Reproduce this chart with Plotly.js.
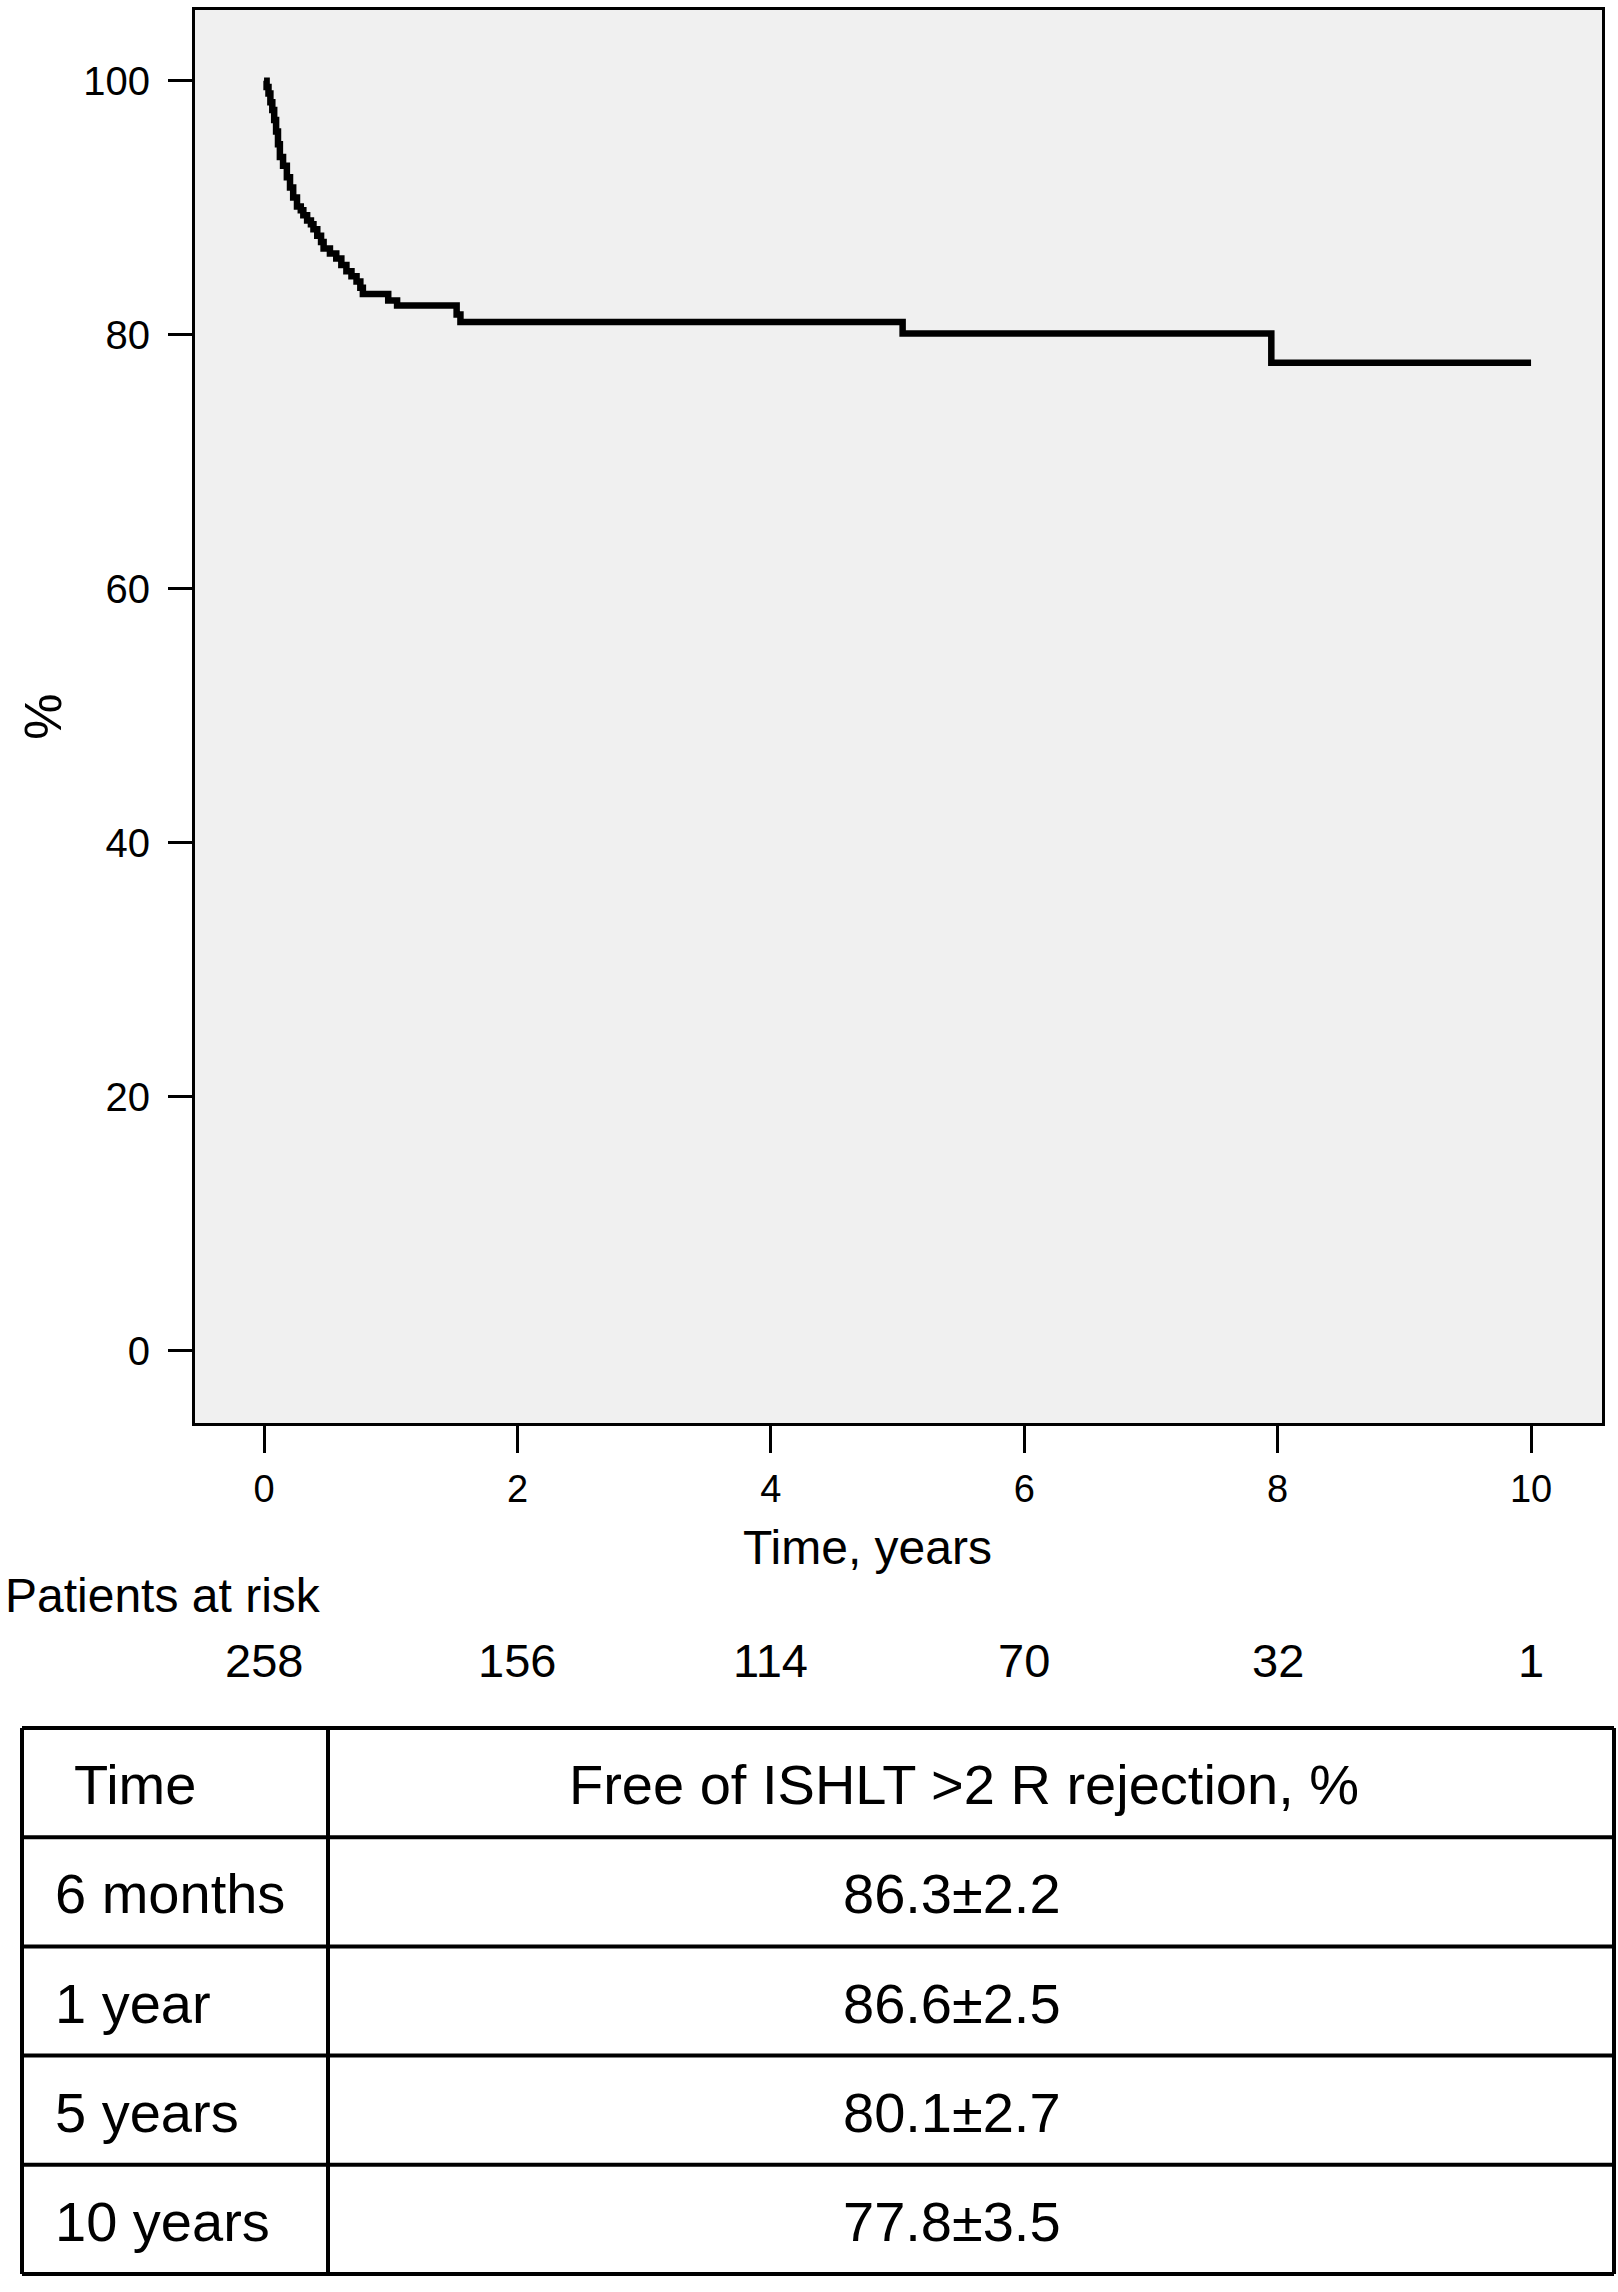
<!DOCTYPE html>
<html>
<head>
<meta charset="utf-8">
<script src="https://cdn.plot.ly/plotly-3.0.1.min.js"></script>
<style>html,body{margin:0;padding:0;background:#fff;}</style>
</head>
<body>
<div id="chart" style="width:1618px;height:2292px;"></div>
<script>
// Kaplan-Meier curve: freedom from ISHLT >2R rejection (%)
const timeYears = [0, 0.02, 0.035, 0.05, 0.065, 0.08, 0.095, 0.11, 0.125, 0.15, 0.18, 0.205, 0.23,
  0.26, 0.29, 0.31, 0.34, 0.37, 0.39, 0.42, 0.45, 0.47, 0.52, 0.57, 0.61, 0.65, 0.69, 0.73, 0.76,
  0.78, 0.98, 1.05, 1.52, 1.55, 5.04, 7.95, 10.0];
const freedomPct = [100, 99.5, 99.0, 98.3, 97.7, 96.9, 96.0, 95.0, 94.0, 93.3, 92.4, 91.6, 90.8,
  90.1, 89.8, 89.4, 89.0, 88.7, 88.3, 87.8, 87.3, 86.8, 86.4, 86.0, 85.5, 85.0, 84.6, 84.2, 83.7,
  83.2, 82.7, 82.3, 81.6, 81.0, 80.1, 77.8, 77.8];

const xTicks = [0, 2, 4, 6, 8, 10];
const yTicks = [0, 20, 40, 60, 80, 100];

const riskTimes = [0, 2, 4, 6, 8, 10];
const riskCounts = [258, 156, 114, 70, 32, 1];

const tableHeader = ['Time', 'Free of ISHLT >2 R rejection, %'];
const tableTimes = ['6 months', '1 year', '5 years', '10 years'];
const tableValues = ['86.3±2.2', '86.6±2.5', '80.1±2.7', '77.8±3.5'];

const FONT = 'Liberation Sans, Arial, Helvetica, sans-serif';
const W = 1618, H = 2292;
const M = {l: 20, r: 2, t: 10, b: 18};
// pixel -> paper helpers
const px = v => (v - M.l) / (W - M.l - M.r);
const py = v => (H - M.b - v) / (H - M.t - M.b);

const curve = {
  type: 'scatter', mode: 'lines', x: timeYears, y: freedomPct,
  line: {shape: 'hv', color: '#000', width: 6.5},
  xaxis: 'x', yaxis: 'y', hoverinfo: 'skip'
};

// table geometry (pixels)
const T = {left: 22, right: 1614, top: 1728, rowH: 109.2, colDiv: 328,
           col1TextHeader: 72, col1Text: 53, col2HeaderCenter: 964, col2Center: 952};
const nRows = 1 + tableTimes.length;
const shapes = [];
const lineStyle = {color: '#000', width: 4};
for (let i = 0; i <= nRows; i++) {
  const yy = py(T.top + i * T.rowH);
  shapes.push({type: 'line', xref: 'paper', yref: 'paper', x0: px(T.left), x1: px(T.right), y0: yy, y1: yy, line: lineStyle});
}
[T.left, T.colDiv, T.right].forEach(xv => {
  shapes.push({type: 'line', xref: 'paper', yref: 'paper', x0: px(xv), x1: px(xv),
    y0: py(T.top), y1: py(T.top + nRows * T.rowH), line: lineStyle});
});

const annotations = [
  {text: 'Time, years', xref: 'paper', yref: 'paper', x: 0.531, y: 0.3207,
   xanchor: 'center', yanchor: 'middle', showarrow: false, font: {family: FONT, size: 48, color: '#000'}},
  {text: 'Patients at risk', xref: 'paper', yref: 'paper', x: -0.0107, y: 0.2995,
   xanchor: 'left', yanchor: 'middle', showarrow: false, font: {family: FONT, size: 48, color: '#000'}}
];
riskTimes.forEach((t, i) => {
  annotations.push({text: String(riskCounts[i]), xref: 'x', yref: 'paper', x: t, y: 0.2712,
    xanchor: 'center', yanchor: 'middle', showarrow: false, font: {family: FONT, size: 47, color: '#000'}});
});
const tfont = {family: FONT, size: 56, color: '#000'};
const rowMid = r => py(T.top + (r + 0.5) * T.rowH + 2);
annotations.push({text: tableHeader[0], xref: 'paper', yref: 'paper', x: px(T.col1TextHeader), y: rowMid(0),
  xanchor: 'left', yanchor: 'middle', showarrow: false, font: tfont});
annotations.push({text: tableHeader[1], xref: 'paper', yref: 'paper', x: px(T.col2HeaderCenter), y: rowMid(0),
  xanchor: 'center', yanchor: 'middle', showarrow: false, font: tfont});
tableTimes.forEach((label, i) => {
  annotations.push({text: label, xref: 'paper', yref: 'paper', x: px(T.col1Text), y: rowMid(i + 1),
    xanchor: 'left', yanchor: 'middle', showarrow: false, font: tfont});
  annotations.push({text: tableValues[i], xref: 'paper', yref: 'paper', x: px(T.col2Center), y: rowMid(i + 1),
    xanchor: 'center', yanchor: 'middle', showarrow: false, font: tfont});
});

const layout = {
  width: W, height: H,
  margin: {l: M.l, r: M.r, t: M.t, b: M.b, pad: 0},
  paper_bgcolor: '#fff', plot_bgcolor: '#f0f0f0',
  showlegend: false,
  font: {family: FONT, color: '#000'},
  xaxis: {
    domain: [px(195), px(1602)], range: [-0.545, 10.56],
    tickmode: 'array', tickvals: xTicks, ticktext: xTicks.map(String),
    ticks: 'outside', ticklen: 27, tickwidth: 3, tickcolor: '#000',
    showline: true, linewidth: 3, linecolor: '#000', mirror: true,
    showgrid: false, zeroline: false, fixedrange: true,
    tickfont: {family: FONT, size: 38, color: '#000'}, ticklabelstandoff: 3
  },
  yaxis: {
    domain: [py(1423), 1], range: [-5.69, 105.57],
    tickmode: 'array', tickvals: yTicks, ticktext: yTicks.map(String),
    ticks: 'outside', ticklen: 24, tickwidth: 3, tickcolor: '#000',
    showline: true, linewidth: 3, linecolor: '#000', mirror: true,
    showgrid: false, zeroline: false, fixedrange: true,
    tickfont: {family: FONT, size: 40, color: '#000'}, ticklabelstandoff: 10,
    title: {text: '%', font: {family: FONT, size: 52, color: '#000'}, standoff: 6}
  },
  shapes: shapes,
  annotations: annotations
};

Plotly.newPlot('chart', [curve], layout, {displayModeBar: false, staticPlot: true});
</script>
</body>
</html>
